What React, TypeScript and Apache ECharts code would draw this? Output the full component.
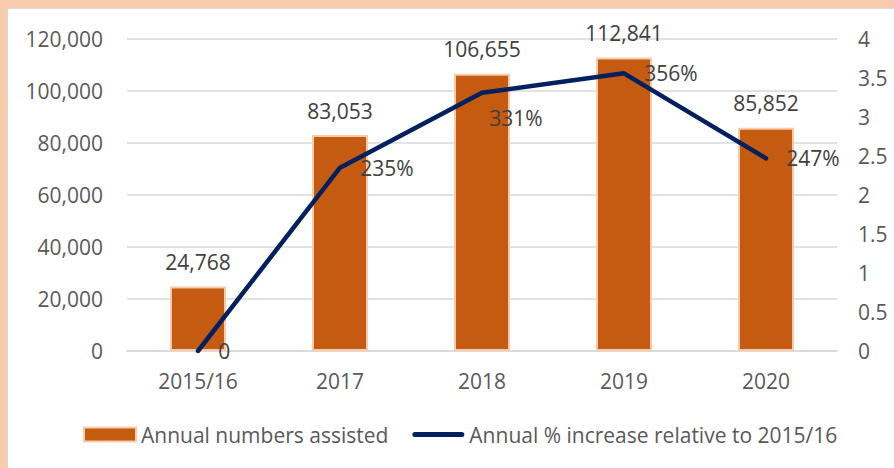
import React, { useEffect, useRef } from "react";
import * as echarts from "echarts";

const categories = ["2015/16", "2017", "2018", "2019", "2020"];
const assisted = [24768, 83053, 106655, 112841, 85852];
const increase = [0, 2.35, 3.31, 3.56, 2.47];
const increaseLabels = ["0", "235%", "331%", "356%", "247%"];
const seriesNames = ["Annual numbers assisted", "Annual % increase relative to 2015/16"];

const FONT = "'Open Sans', 'Noto Sans', sans-serif";
const AXIS_COLOR = "#595959";
const LABEL_COLOR = "#404040";
const LINE_ICON =
  "path://M0,0L0,0ZM0,14L0,14ZM2.5,4.5L49.5,4.5A2.5,2.5 0 0 1 49.5,9.5L2.5,9.5A2.5,2.5 0 0 1 2.5,4.5Z";

export default function App() {
  const ref = useRef<HTMLDivElement>(null);
  useEffect(() => {
    if (!ref.current) return;
    const chart = echarts.init(ref.current, undefined, { renderer: "svg" });
    chart.setOption({
      animation: false,
      backgroundColor: "#ffffff",
      textStyle: { fontFamily: FONT },
      graphic: [
        { type: "rect", shape: { x: 0, y: 0, width: 894, height: 8 }, style: { fill: "#F8CBAD" }, z: 100 },
        { type: "rect", shape: { x: 0, y: 0, width: 7, height: 468 }, style: { fill: "#F8CBAD" }, z: 100 },
        { type: "line", shape: { x1: 7, y1: 8.5, x2: 894, y2: 8.5 }, style: { stroke: "#D9D9D9", lineWidth: 1 }, z: 100 },
        { type: "line", shape: { x1: 7.5, y1: 8, x2: 7.5, y2: 468 }, style: { stroke: "#D9D9D9", lineWidth: 1 }, z: 100 },
      ],
      grid: { left: 127, right: 57, top: 39, bottom: 117, containLabel: false },
      legend: {
        bottom: 18,
        left: 78,
        itemWidth: 52,
        itemHeight: 14,
        itemGap: 24,
        textStyle: { fontSize: 21, color: AXIS_COLOR, fontFamily: FONT },
        data: [
          { name: seriesNames[0], icon: "rect" },
          { name: seriesNames[1], icon: LINE_ICON, itemStyle: { color: "#002060" } },
        ],
      },
      xAxis: {
        type: "category",
        data: categories,
        axisTick: { show: false },
        axisLine: { lineStyle: { color: "#D9D9D9", width: 1.5 } },
        axisLabel: { fontSize: 21, color: AXIS_COLOR, margin: 19, fontFamily: FONT },
      },
      yAxis: [
        {
          type: "value",
          min: 0,
          max: 120000,
          interval: 20000,
          axisLine: { show: false },
          axisTick: { show: false },
          splitLine: { lineStyle: { color: "#D9D9D9", width: 1.5 } },
          axisLabel: {
            fontSize: 21,
            color: AXIS_COLOR,
            margin: 24,
            fontFamily: FONT,
            formatter: (v: number) => v.toLocaleString("en-US"),
          },
        },
        {
          type: "value",
          min: 0,
          max: 4,
          interval: 0.5,
          axisLine: { show: false },
          axisTick: { show: false },
          splitLine: { show: false },
          axisLabel: { fontSize: 21, color: AXIS_COLOR, margin: 21, fontFamily: FONT },
        },
      ],
      series: [
        {
          name: seriesNames[0],
          type: "bar",
          data: assisted,
          barWidth: 56,
          itemStyle: { color: "#C55A11", borderColor: "#F8CBAD", borderWidth: 2 },
          label: {
            show: true,
            position: "top",
            distance: 14,
            fontSize: 21,
            color: LABEL_COLOR,
            fontFamily: FONT,
            formatter: (p: any) => Number(p.value).toLocaleString("en-US"),
          },
        },
        {
          name: seriesNames[1],
          type: "line",
          yAxisIndex: 1,
          data: increase,
          showSymbol: false,
          symbol: "none",
          lineStyle: { color: "#002060", width: 4.5, cap: "round" },
          itemStyle: { color: "#002060" },
          z: 5,
        },
        {
          name: "labels",
          type: "scatter",
          yAxisIndex: 1,
          data: increase.map((v, i) =>
            i === 2 ? { value: v, label: { offset: [-13, 25] } } : { value: v }
          ),
          symbolSize: 0.5,
          itemStyle: { color: "#002060", opacity: 1 },
          silent: true,
          label: {
            show: true,
            position: "right",
            distance: 20,
            fontSize: 21,
            color: LABEL_COLOR,
            opacity: 1,
            fontFamily: FONT,
            formatter: (p: any) => increaseLabels[p.dataIndex],
          },
          z: 6,
        },
      ],
    });
    return () => chart.dispose();
  }, []);
  return (
    <div
      ref={ref}
      style={{ position: "fixed", left: 0, top: 0, width: 894, height: 468 }}
    />
  );
}
